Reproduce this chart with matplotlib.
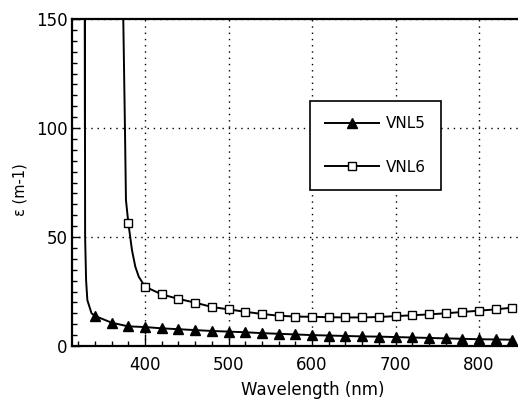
import matplotlib

matplotlib.use("Agg")
import matplotlib.pyplot as plt
from matplotlib.ticker import MultipleLocator


# marker samples every 20 nm
vnl5_nm = [340, 360, 380, 400, 420, 440, 460, 480, 500, 520, 540, 560, 580,
           600, 620, 640, 660, 680, 700, 720, 740, 760, 780, 800, 820, 840]
vnl5_eps = [13.8, 10.7, 9.0, 8.7, 8.1, 7.7, 7.3, 6.9, 6.6, 6.3, 5.9, 5.6, 5.3,
            5.0, 4.8, 4.6, 4.4, 4.3, 4.1, 3.9, 3.7, 3.5, 3.3, 3.1, 3.0, 2.9]

vnl6_nm = [380, 400, 420, 440, 460, 480, 500, 520, 540, 560, 580, 600,
           620, 640, 660, 680, 700, 720, 740, 760, 780, 800, 820, 840]
vnl6_eps = [56.6, 27.2, 23.7, 21.6, 19.9, 17.9, 16.8, 15.7, 14.7, 13.9, 13.5, 13.4,
            13.2, 13.1, 13.1, 13.3, 13.7, 14.1, 14.5, 15.0, 15.6, 16.2, 16.8, 17.6]

# absorption edge, where the curves shoot up
vnl5_edge_nm = [328.0, 328.0, 328.3, 329.5, 331.0, 336.0]
vnl5_edge_eps = [150, 100, 50, 30, 21, 15]
vnl6_edge_nm = [374.0, 376.0, 377.2, 384.4, 388.4, 392.5]
vnl6_edge_eps = [150, 100, 67, 44, 36.4, 31.8]

x_ticks = [400, 500, 600, 700, 800]
y_ticks = [0, 50, 100, 150]


def curve(edge_nm, edge_eps, nm, eps):
    pts = sorted(zip(edge_nm + nm, edge_eps + eps))
    return [p[0] for p in pts], [p[1] for p in pts]


plt.rcParams["font.family"] = ["DejaVu Sans"]

fig = plt.figure(figsize=(5.18, 3.99), dpi=100)
ax = fig.add_axes([72 / 518, 53 / 399, 453 / 518, 327 / 399])

x5, y5 = curve(vnl5_edge_nm, vnl5_edge_eps, vnl5_nm, vnl5_eps)
x6, y6 = curve(vnl6_edge_nm, vnl6_edge_eps, vnl6_nm, vnl6_eps)

ax.plot(x5, y5, color="black", lw=1.4, zorder=3)
ax.plot(x6, y6, color="black", lw=1.4, zorder=3)
ax.plot(vnl5_nm, vnl5_eps, ls="none", marker="^", ms=6.8, color="black", zorder=4)
ax.plot(vnl6_nm, vnl6_eps, ls="none", marker="s", ms=6.0, mfc="white",
        mec="black", mew=1.0, zorder=4)

# legend proxies: line with the marker in the middle
h5, = ax.plot([], [], color="black", lw=1.4, marker="^", ms=6.8, label="VNL5")
h6, = ax.plot([], [], color="black", lw=1.4, marker="s", ms=6.0, mfc="white",
              mec="black", mew=1.0, label="VNL6")
leg = ax.legend(handles=[h5, h6], loc="upper left", bbox_to_anchor=(0.525, 0.749),
                borderaxespad=0, frameon=True, fancybox=False, framealpha=1,
                edgecolor="black", fontsize=11, handlelength=3.5,
                handletextpad=0.45, labelspacing=1.85, borderpad=1.0)
leg.get_frame().set_linewidth(1.2)
leg.set_zorder(5)

ax.set_xlim(312.6, 855)
ax.set_ylim(0, 150)
ax.set_xticks(x_ticks)
ax.set_yticks(y_ticks)
ax.xaxis.set_minor_locator(MultipleLocator(20))
ax.yaxis.set_minor_locator(MultipleLocator(5))

ax.grid(True, which="major", color="black", linestyle=(0, (1, 3.5)), lw=1.0)
ax.set_axisbelow(True)

ax.tick_params(axis="both", which="both", direction="in", top=False, right=False,
               width=1.0, labelsize=12)
ax.tick_params(axis="x", which="major", length=9, pad=7)
ax.tick_params(axis="x", which="minor", length=3.5)
ax.tick_params(axis="y", which="major", length=6, pad=3)
ax.tick_params(axis="y", which="minor", length=3.5)

for side in ["left", "bottom", "top", "right"]:
    ax.spines[side].set_linewidth(1.6)

ax.set_xlabel("Wavelength (nm)", fontsize=12)
ax.xaxis.set_label_coords(0.532, -0.108)
ax.set_ylabel("ε (m-1)", fontsize=10.5)
ax.yaxis.set_label_coords(-0.099, 0.477)

fig.savefig("out.png", dpi=100)
